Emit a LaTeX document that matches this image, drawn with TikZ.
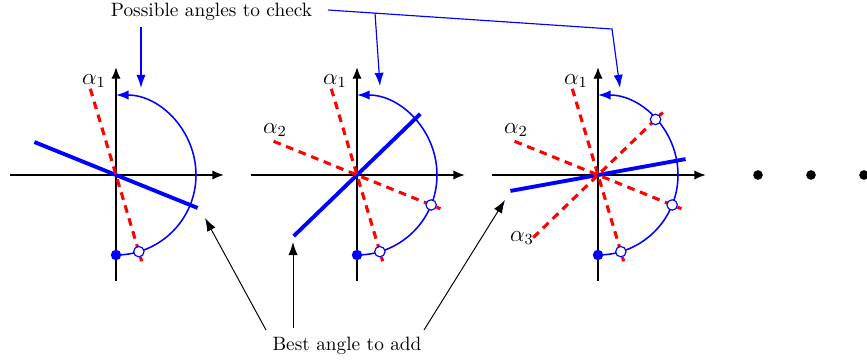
\documentclass[tikz,border=0pt]{standalone}
\usetikzlibrary{arrows.meta}
\begin{document}
\begin{tikzpicture}[x=0.518pt,y=0.518pt,
  axisline/.style={line width=1pt,-{Latex[length=6pt,width=4.8pt]}},
  arcline/.style={blue,line width=0.8pt,-{Latex[length=6.5pt,width=4.8pt]}},
  reddash/.style={red,line width=1.6pt,dash pattern=on 4pt off 3pt},
  bestline/.style={blue,line width=2pt},
  opencirc/.style={circle,draw=blue,fill=white,line width=0.6pt,inner sep=0pt,minimum size=5.4pt},
  fulldot/.style={circle,fill=blue,inner sep=0pt,minimum size=5.4pt},
  blackdot/.style={circle,fill=black,inner sep=0pt,minimum size=5pt},
  bluearrow/.style={blue,line width=0.6pt,-{Latex[length=6.8pt,width=4.8pt]}},
  blackarrow/.style={black,line width=0.5pt,-{Latex[length=6.8pt,width=4.8pt]}},
  lbl/.style={inner sep=0pt},
  alab/.style={inner sep=0pt,font=\large}]
\useasboundingbox (0,0) rectangle (867,362);
% ---------- panel 1
\begin{scope}[shift={(116,187)}]
  \draw[axisline] (-106,0) -- (108,0);
  \draw[axisline] (0,-106) -- (0,108);
  \draw[bestline] (158:88) -- (-22:88);
  \draw[reddash] (106.6:90) -- (-73.4:90);
  \draw[arcline] (0,-80) arc[start angle=-90,end angle=90,radius=80];
  \node[fulldot] (f1) at (0,-80) {};
  \node[opencirc] (c11) at (-73.4:80) {};
  \node[alab] (a11) at (-22,94) {$\alpha_1$};
\end{scope}
% ---------- panel 2
\begin{scope}[shift={(357,187)}]
  \draw[axisline] (-106,0) -- (108,0);
  \draw[axisline] (0,-106) -- (0,108);
  \draw[bestline] (224:88) -- (44:88);
  \draw[reddash] (106.6:90) -- (-73.4:90);
  \draw[reddash] (158:90) -- (-22:90);
  \draw[arcline] (0,-80) arc[start angle=-90,end angle=90,radius=80];
  \node[fulldot] (f2) at (0,-80) {};
  \node[opencirc] (c21) at (-73.4:80) {};
  \node[opencirc] (c22) at (-22:80) {};
  \node[alab] (a21) at (-22,94) {$\alpha_1$};
  \node[alab] (a22) at (-82,45) {$\alpha_2$};
\end{scope}
% ---------- panel 3
\begin{scope}[shift={(598,187)}]
  \draw[axisline] (-106,0) -- (108,0);
  \draw[axisline] (0,-106) -- (0,108);
  \draw[bestline] (190.3:89) -- (10.3:89);
  \draw[reddash] (106.6:90) -- (-73.4:90);
  \draw[reddash] (158:90) -- (-22:90);
  \draw[reddash] (224:90) -- (44:90);
  \draw[arcline] (0,-80) arc[start angle=-90,end angle=90,radius=80];
  \node[fulldot] (f3) at (0,-80) {};
  \node[opencirc] (c31) at (-73.4:80) {};
  \node[opencirc] (c32) at (-22:80) {};
  \node[opencirc] (c33) at (44:80) {};
  \node[alab] (a31) at (-22,94) {$\alpha_1$};
  \node[alab] (a32) at (-82,45) {$\alpha_2$};
  \node[alab] (a33) at (-76,-63) {$\alpha_3$};
\end{scope}
% ---------- dots
\node[blackdot] (d1) at (758,187) {};
\node[blackdot] (d2) at (811,187) {};
\node[blackdot] (d3) at (864,187) {};
% ---------- top label
\node[lbl] (poss) at (211.5,350) {Possible angles to check};
\coordinate (ps1) at (141,335);
\coordinate (pe1) at (141,274);
\coordinate (pstart) at (328,352);
\coordinate (pbend) at (612,333);
\coordinate (pe3) at (620,274);
\coordinate (pbr) at (375,349);
\coordinate (pe2) at (380,276);
\draw[bluearrow] (ps1) -- (pe1);
\draw[bluearrow] (pstart) -- (pbend) -- (pe3);
\draw[bluearrow] (pbr) -- (pe2);
% ---------- bottom label
\node[lbl] (best) at (347,16) {Best angle to add};
\coordinate (bs1) at (266,32);
\coordinate (be1) at (205,144);
\coordinate (bs2) at (293,34);
\coordinate (be2) at (293,120);
\coordinate (bs3) at (424,32);
\coordinate (be3) at (505,162);
\draw[blackarrow] (bs1) -- (be1);
\draw[blackarrow] (bs2) -- (be2);
\draw[blackarrow] (bs3) -- (be3);
\end{tikzpicture}
\end{document}
